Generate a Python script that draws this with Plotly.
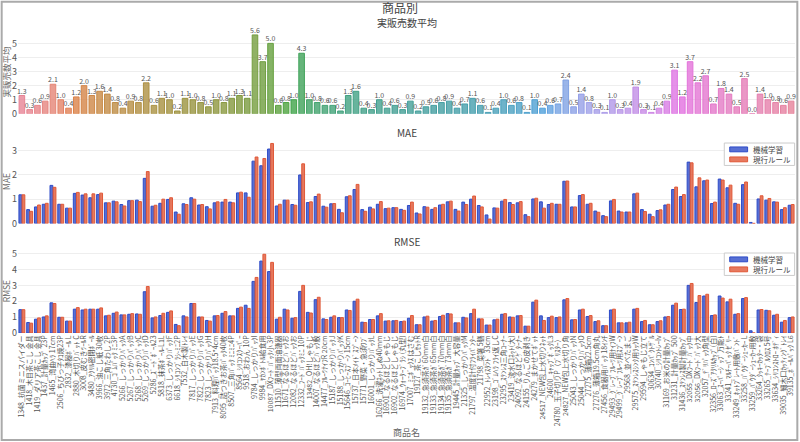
import colorsys
import math

import plotly.graph_objects as go
from plotly.subplots import make_subplots

# 商品名
products = [
    "1348_抗菌ミニスパイダー", "1418_木目茶こし 金具", "1419_ダリア茶こし 金具", "1437_計量ｶｯﾌﾟ 23P",
    "1465_湾曲ﾍﾗ 17cm", "2506_ちびっ子ﾀｺ焼23P", "2832_漆器ﾎﾞｰﾙ L", "2880_木切りﾊﾞｯﾄ C",
    "3008_皮むきﾂｰﾙR", "3480_ｱｸﾘﾙ密閉ﾎﾞｰﾙ", "3966_油こし紙 30枚", "3972_三角たわし 2P",
    "4730_ｺﾞﾑﾊﾟｯｸ ﾐﾆ3P", "5266_しっかりﾊﾟｯｸA", "5267_しっかりﾊﾟｯｸB", "5268_しっかりﾊﾟｯｸC",
    "5269_しっかりﾊﾟｯｸD", "5286_ｽﾞｰﾄﾞﾎﾞｰﾙ23", "5818_抹茶ﾎﾞｰﾙ-L1L", "6373_しっかりﾊﾟｯｸF",
    "6618_ｼﾘｺﾝﾌﾞﾗｼ-ﾐﾆ2P", "7532_白木製ﾄﾚｲ", "7817_しっかりﾊﾟｯｸE", "7822_しっかりﾊﾟｯｸG",
    "7823_しっかりﾊﾟｯｸH", "7913_料理ﾊﾟｯｸ18.5*4cm", "8095_詰つきお茶ﾊﾟｯｸ40枚", "8507_三角ﾊﾟｯｸ ﾐﾆﾐﾆ4P",
    "8564_ｼﾘｺﾝｽｸｰﾊﾟｰ", "9518_おわん 10P", "9784_しっかりﾊﾟｯｸI", "9984_ﾔｶﾝﾎﾞﾄﾙ給食用",
    "10087_DXﾌｰﾄﾞﾊﾟｯｸ小 3P", "11510_薄型両面油漉器", "11671_なるほどﾊﾞｯｸお", "12082_なるほどﾊﾞｯｸお",
    "12332_ﾌｰﾄﾞﾊﾟｯｸﾐﾆ 10P", "13482_OH!しゃもじ", "14007_なるほどﾊﾞｯｸ敷", "14477_ﾌﾙｰﾂﾅｲﾌR 20cm",
    "15187_しっかりﾊﾟｯｸJ", "15188_しっかりﾊﾟｯｸK", "15646_ｺｰﾋｰｽﾌﾟｰﾝ 15cm", "15737_日本ﾒｲﾄﾞｽﾌﾟｰﾝ",
    "15771_野菜・急須ﾜﾌﾞ", "16001_しっかりﾊﾟｯｸL", "16266_洗濯ﾈｯﾄしぬ40mm", "16901_なるほどしゃもじ",
    "16902_なるほどしゃもじ", "16974_ｳｫｰﾀｰﾌﾞﾗｼ (丸型)", "17007_ﾐﾆﾎﾞｯｸｽ はさむ", "19127_茶こしｾｯﾄR",
    "19132_急須茶ｶﾞ60mm白", "19133_急須茶ｶﾞ65mm白", "19134_急須茶ｶﾞ70mm白", "19135_急須茶ｶﾞ73mm白",
    "19445_計量ｶｯﾌﾟ 大容量", "21325_しっかりﾊﾟｯｸM", "21797_温度計付ﾌﾗｲﾊﾟﾝﾀｰ", "21798_菜箸 5膳",
    "22952_ﾄﾚｲｽﾀﾝﾄﾞ 33cm", "23198_ｺﾞﾑﾍﾗ ﾌﾗｲ返しC", "23295_ｽﾃﾝﾚｽ三角ｺｰﾅｰ", "23419_流水口ﾈｯﾄ(大)",
    "24092_なるほどｹﾞﾀｰﾅｰ", "24155_りんごの皮剥き", "24279_まかせてﾎﾟｯﾄ", "24517_NEW包上水切りﾈｯﾄ",
    "24600_ｷｬｯﾌﾟﾎﾞｯｸL3", "24780_玉子切りP（ﾌﾞﾘｽﾀｰ）", "24827_NEW包上水切り角", "25043_しっかりﾊﾟｯｸN",
    "25044_しっかりﾊﾟｯｸO", "27275_薄箱22.5cm", "27276_薄箱19.5cm角丸", "27456_食器用ﾊﾟｯｸ 18ｲﾝﾁ",
    "29493_ｸﾞﾚｰﾌﾟﾌﾙｰﾂ用ﾅｲﾌW", "29499_ｸﾞﾚｰﾌﾟﾌﾙｰﾂ用ｽﾌﾟｰﾝ", "29568_並べたまご", "29575_ｽﾃﾝﾚｽｼﾝｸ用ﾗｯｸW",
    "29594_しゃもじ立て", "30634_ｺﾝﾊﾟｸﾄｻﾞﾙ", "30740_ｼﾘｺﾝﾄﾚｰIv", "31169_お米の計量ｶｯﾌﾟ",
    "31231_計量ｶｯﾌﾟ 500", "31436_ｽﾃﾝﾚｽ製計量ｶｯﾌﾟ", "32055_DXﾌｰﾄﾞﾊﾟｯｸ中", "32056_DXﾌｰﾄﾞﾊﾟｯｸ大",
    "32057_ﾃﾞﾘﾊﾟｯｸ角型", "32356_ﾛｰｽﾞｱｸﾘﾙｶｯﾌﾟ(白)", "33063_ｽｰﾊﾟｰｼﾞｯﾌﾟ万能ﾄ", "33241_ﾏﾙﾁｰﾊﾟｯｸ ｾﾞﾘｰ",
    "33249_ﾎｯﾄﾌﾟﾚｰﾄ用敷ﾊﾞﾝﾄﾞ", "33258_ﾊﾟｳﾀﾞｰｼｪｰｶｰ L", "33259_ﾊﾟｳﾀﾞｰｼｪｰｶｰ用敷", "33264_ｸｯｷｰｶｯﾀｰ・袋",
    "33265_ﾃｰﾌﾞﾙｸﾛｽ 5号", "33634_ｼﾘｺﾝｽﾄﾛｰ ﾎﾃﾞｨ", "39035_細木口ｶｯﾃｨﾝｸﾞﾄﾚｲ", "39135_ﾎﾞｰﾙﾊﾟｯｸ L6",
]

# 実販売数平均
sales_mean = [
    1.3, 0.3, 0.6, 0.9, 2.1, 1.0, 0.4, 1.2, 2.0, 1.3,
    1.6, 1.4, 0.8, 0.4, 0.9, 0.8, 2.2, 0.6, 1.1, 1.0,
    0.2, 1.1, 1.0, 0.8, 0.5, 1.0, 0.8, 1.1, 1.3, 1.1,
    5.6, 3.7, 5.0, 0.6, 0.8, 1.0, 4.3, 1.0, 0.8, 0.6,
    0.6, 0.2, 1.3, 1.6, 0.4, 0.3, 1.0, 0.4, 0.6, 0.3,
    0.9, 0.2, 0.5, 0.6, 0.8, 0.9, 0.4, 0.7, 1.1, 0.6,
    0.1, 0.4, 1.0, 0.6, 0.8, 0.1, 1.0, 0.4, 0.6, 0.7,
    2.4, 0.5, 1.4, 0.8, 0.3, 0.1, 1.0, 0.3, 0.4, 1.9,
    0.3, 0.1, 0.4, 0.9, 3.1, 1.2, 3.7, 2.2, 2.7, 0.7,
    1.8, 1.4, 0.5, 2.5, 0.0, 1.4, 1.0, 0.8, 0.6, 0.9,
]

mae_ml = [
    1.18, 0.57, 0.68, 0.79, 1.57, 0.79, 0.63, 1.24, 1.17, 1.06,
    1.19, 0.85, 0.92, 0.78, 0.94, 0.96, 1.86, 0.71, 0.83, 0.99,
    0.47, 0.81, 1.06, 0.76, 0.69, 0.85, 0.88, 0.88, 1.26, 1.26,
    2.57, 2.38, 3.07, 0.72, 0.96, 0.78, 2.00, 0.86, 1.11, 0.71,
    0.81, 0.58, 1.10, 1.40, 0.57, 0.67, 0.79, 0.61, 0.65, 0.58,
    0.74, 0.43, 0.69, 0.58, 0.76, 0.89, 0.58, 0.88, 1.00, 0.74,
    0.35, 0.64, 0.92, 0.86, 0.85, 0.36, 1.01, 0.89, 0.78, 0.79,
    1.74, 0.68, 1.15, 0.79, 0.51, 0.32, 0.93, 0.51, 0.47, 1.22,
    0.57, 0.38, 0.53, 0.76, 1.40, 1.11, 2.53, 1.51, 1.76, 0.82,
    1.83, 1.47, 0.83, 1.60, 0.04, 1.01, 0.96, 0.89, 0.57, 0.75,
]
mae_rule = [
    1.18, 0.50, 0.76, 0.83, 1.49, 0.79, 0.63, 1.28, 1.22, 1.22,
    1.25, 0.85, 0.89, 0.72, 0.94, 0.90, 2.14, 0.75, 1.00, 1.06,
    0.38, 0.78, 1.00, 0.78, 0.60, 0.89, 0.99, 0.85, 1.29, 1.08,
    2.74, 2.68, 3.30, 0.79, 0.96, 0.75, 2.46, 0.89, 1.21, 0.67,
    0.82, 0.44, 1.14, 1.61, 0.50, 0.60, 0.90, 0.63, 0.65, 0.54,
    0.88, 0.39, 0.67, 0.65, 0.79, 0.92, 0.51, 0.78, 1.13, 0.68,
    0.18, 0.63, 0.99, 0.78, 0.90, 0.28, 1.04, 0.63, 0.83, 0.79,
    1.75, 0.68, 1.19, 0.83, 0.46, 0.28, 0.99, 0.47, 0.47, 1.25,
    0.49, 0.28, 0.56, 0.79, 1.50, 1.19, 2.50, 1.88, 1.79, 0.88,
    1.79, 1.58, 0.79, 1.71, 0.00, 1.14, 1.03, 0.88, 0.65, 0.78,
]

rmse_ml = [
    1.47, 0.66, 0.87, 1.01, 1.90, 0.99, 0.75, 1.50, 1.45, 1.50,
    1.50, 1.08, 1.24, 1.14, 1.18, 1.20, 2.60, 0.95, 1.10, 1.30,
    0.54, 1.08, 1.86, 1.01, 0.79, 1.08, 1.24, 1.08, 1.55, 1.75,
    3.25, 4.53, 3.87, 0.87, 1.50, 0.93, 2.62, 1.30, 2.10, 0.89,
    0.99, 0.97, 1.45, 2.00, 0.68, 0.85, 1.08, 0.75, 0.77, 0.72,
    0.93, 0.52, 1.01, 0.75, 1.04, 1.22, 0.64, 0.99, 1.22, 0.89,
    0.50, 0.83, 1.18, 1.01, 1.08, 0.43, 1.94, 1.08, 0.97, 0.97,
    2.09, 0.83, 1.45, 1.04, 0.72, 0.46, 1.45, 0.64, 0.64, 1.50,
    0.72, 0.52, 0.72, 1.01, 1.75, 1.48, 3.00, 1.92, 2.33, 1.10,
    2.33, 1.96, 1.18, 2.17, 0.14, 1.45, 1.43, 1.12, 0.68, 0.97,
]
rmse_rule = [
    1.47, 0.62, 0.95, 1.08, 1.86, 0.99, 0.75, 1.60, 1.50, 1.50,
    1.58, 1.12, 1.32, 1.14, 1.22, 1.18, 2.93, 1.01, 1.24, 1.39,
    0.46, 1.01, 1.86, 1.01, 0.75, 1.10, 1.35, 1.08, 1.63, 1.55,
    3.50, 4.96, 4.45, 0.99, 1.45, 0.97, 3.00, 1.26, 2.25, 0.85,
    1.08, 0.97, 1.42, 2.13, 0.66, 0.85, 1.22, 0.77, 0.79, 0.75,
    1.10, 0.52, 1.06, 0.79, 1.12, 1.20, 0.64, 0.95, 1.50, 0.89,
    0.50, 0.87, 1.22, 0.99, 1.10, 0.43, 2.07, 0.79, 1.06, 1.01,
    2.17, 0.85, 1.50, 1.10, 0.77, 0.46, 1.50, 0.64, 0.68, 1.55,
    0.79, 0.52, 0.77, 1.04, 1.88, 1.50, 3.12, 2.36, 2.44, 1.14,
    2.20, 2.13, 1.22, 2.23, 0.00, 1.48, 1.40, 1.18, 0.79, 1.01,
]

series_names = ["機械学習", "現行ルール"]


def husl_to_rgb(h, s, l):
    """HSLuv -> sRGB (0-1)"""
    m = [[3.240969941904521, -1.537383177570093, -0.498610760293],
         [-0.96924363628087, 1.87596750150772, 0.041555057407175],
         [0.055630079696993, -0.20397695888897, 1.056971514242878]]
    kappa, eps = 903.2962962, 0.0088564516
    sub1 = (l + 16) ** 3 / 1560896
    sub2 = sub1 if sub1 > eps else l / kappa
    hrad = math.radians(h)
    lengths = []
    for m1, m2, m3 in m:
        for t in (0, 1):
            top1 = (284517 * m1 - 94839 * m3) * sub2
            top2 = (838422 * m3 + 769860 * m2 + 731718 * m1) * l * sub2 - 769860 * t * l
            bottom = (632260 * m3 - 126452 * m2) * sub2 + 126452 * t
            slope, icpt = top1 / bottom, top2 / bottom
            length = icpt / (math.sin(hrad) - slope * math.cos(hrad))
            if length >= 0:
                lengths.append(length)
    c = min(lengths) / 100 * s
    u, v = c * math.cos(hrad), c * math.sin(hrad)
    y = ((l + 16) / 116) ** 3 if l > 8 else l / kappa
    var_u = u / (13 * l) + 0.19783000664283
    var_v = v / (13 * l) + 0.46831999493879
    x = -(9 * y * var_u) / ((var_u - 4) * var_v - var_u * var_v)
    z = (9 * y - 15 * var_v * y - var_v * x) / (3 * var_v)
    out = []
    for row in m:
        cc = row[0] * x + row[1] * y + row[2] * z
        cc = 12.92 * cc if cc <= 0.0031308 else 1.055 * cc ** (1 / 2.4) - 0.055
        out.append(min(max(cc, 0), 1))
    return out


def husl_colors(n):
    cols = []
    for i in range(n):
        hue = ((i / n) + 0.01) % 1 * 359
        r, g, b = husl_to_rgb(hue, 90, 65)
        hh, ll, ss = colorsys.rgb_to_hls(r, g, b)
        r, g, b = colorsys.hls_to_rgb(hh, ll, ss * 0.75)
        cols.append((int(r * 255), int(g * 255), int(b * 255)))
    return cols


pal = husl_colors(len(products))
fill_cols = [f"rgba({r},{g},{b},0.8)" for r, g, b in pal]
line_cols = [f"rgb({r},{g},{b})" for r, g, b in pal]

font_family = "Noto Sans CJK JP"
series_colors = ["rgb(45,75,200)", "rgb(224,88,55)"]


def fill_of(col):
    return col.replace("rgb", "rgba").replace(")", ",0.8)")


fig = make_subplots(rows=3, cols=1, shared_xaxes=True, vertical_spacing=0.085,
                    subplot_titles=("実販売数平均", "MAE", "RMSE"))

fig.add_bar(x=products, y=sales_mean, showlegend=False,
            marker=dict(color=fill_cols, line=dict(color=line_cols, width=1)),
            texttemplate="%{y:.1f}", textposition="outside", constraintext="none",
            cliponaxis=False, textfont=dict(size=7, color="#555"),
            row=1, col=1)

for row, pair in [(2, (mae_ml, mae_rule)), (3, (rmse_ml, rmse_rule))]:
    for name, vals, col in zip(series_names, pair, series_colors):
        fig.add_bar(x=products, y=vals, name=name, showlegend=False,
                    marker=dict(color=fill_of(col), line=dict(color=col, width=1)),
                    row=row, col=1)

# compact legend boxes (MAE / RMSE) drawn in paper coords
shapes = [dict(type="rect", xref="paper", yref="paper",
               x0=-0.021, x1=1.003, y0=-0.353, y1=1.093,
               line=dict(color="#aaa", width=2))]
annotations = []
for top in (0.627, 0.264):
    shapes.append(dict(type="rect", xref="paper", yref="paper",
                       x0=0.909, x1=0.9995, y0=top - 0.074, y1=top,
                       fillcolor="white", line=dict(color="#ccc", width=1), layer="above"))
    for k, (name, col) in enumerate(zip(series_names, series_colors)):
        yc = top - 0.021 - k * 0.033
        shapes.append(dict(type="rect", xref="paper", yref="paper",
                           x0=0.916, x1=0.939, y0=yc - 0.008, y1=yc + 0.008,
                           fillcolor=fill_of(col), line=dict(color=col, width=1), layer="above"))
        annotations.append(dict(text=name, xref="paper", yref="paper", x=0.944, y=yc,
                                xanchor="left", yanchor="middle", showarrow=False,
                                font=dict(size=7.5, color="#444", family=font_family)))

fig.update_layout(
    template="plotly_white",
    width=800, height=442,
    margin=dict(l=18, r=5, t=30, b=109),
    font=dict(family=font_family, size=9, color="#444"),
    title=dict(text="商品別", x=0.5, xanchor="center", y=0.99, yanchor="top",
               pad=dict(t=0), font=dict(size=12, color="#444")),
    barmode="group", bargap=0.2, bargroupgap=0.1,
    shapes=shapes,
)
for ann in fig.layout.annotations:
    ann.font = dict(size=10, color="#444", family=font_family)
    ann.yshift = -2
for a in annotations:
    fig.add_annotation(a)

fig.update_xaxes(automargin=False, showgrid=False, tickmode="array", tickvals=products,
                 ticktext=products, tickfont=dict(size=7, color="#555"))
fig.update_xaxes(tickangle=-90, title=dict(text="商品名", font=dict(size=9, color="#666"), standoff=4),
                 row=3, col=1)
fig.update_yaxes(automargin=False, gridcolor="#eee", zeroline=False,
                 tickfont=dict(size=9, color="#555"))
fig.update_yaxes(title=dict(text="実販売数平均", standoff=2, font=dict(size=8.5, color="#666")),
                 range=[0, 5.95], dtick=1, row=1, col=1)
fig.update_yaxes(title=dict(text="MAE", standoff=2, font=dict(size=8.5, color="#666")),
                 range=[0, 3.46], dtick=1, row=2, col=1)
fig.update_yaxes(title=dict(text="RMSE", standoff=2, font=dict(size=8.5, color="#666")),
                 range=[0, 5.28], dtick=1, row=3, col=1)

fig.write_html("out.html", config={"displayModeBar": False},
               post_script="document.body.style.margin='0px';")
